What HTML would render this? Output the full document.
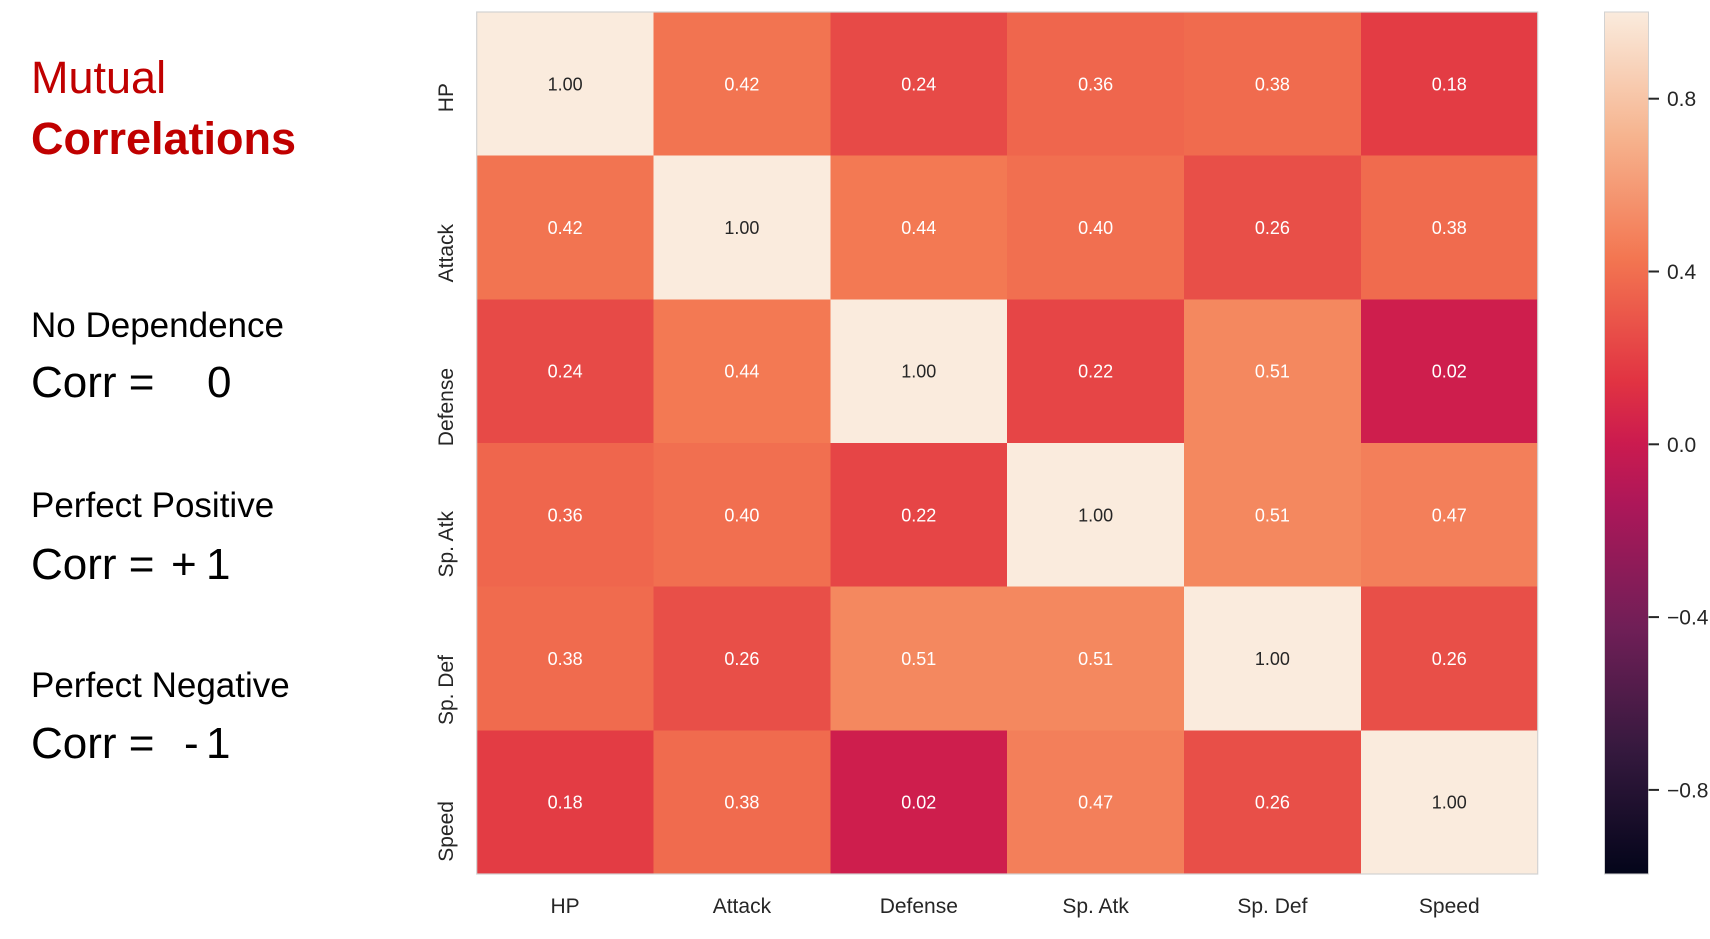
<!DOCTYPE html>
<html>
<head>
<meta charset="utf-8">
<style>
  html, body { margin: 0; padding: 0; background: #ffffff; }
  body { width: 1710px; height: 939px; overflow: hidden; }
  svg { display: block; }
  text { font-family: "Liberation Sans", Arial, sans-serif; }
</style>
</head>
<body>
<svg width="1710" height="939" viewBox="0 0 1710 939" xmlns="http://www.w3.org/2000/svg">
  <defs>
    <linearGradient id="rocket" x1="0" y1="1" x2="0" y2="0">
      <stop offset="0" stop-color="#03051a"/>
      <stop offset="0.143" stop-color="#35193e"/>
      <stop offset="0.286" stop-color="#701f57"/>
      <stop offset="0.429" stop-color="#ad1759"/>
      <stop offset="0.5" stop-color="#cb1b4f"/>
      <stop offset="0.571" stop-color="#e13342"/>
      <stop offset="0.714" stop-color="#f37651"/>
      <stop offset="0.857" stop-color="#f6b48f"/>
      <stop offset="1" stop-color="#faebdd"/>
    </linearGradient>
  </defs>

  <!-- Left panel text -->
  <text x="31" y="93" font-size="45" fill="#c00000">Mutual</text>
  <text x="31" y="154" font-size="45" font-weight="bold" fill="#c00000">Correlations</text>

  <text x="31" y="337" font-size="35" fill="#000">No Dependence</text>
  <text x="31" y="397" font-size="44" fill="#000">Corr =</text>
  <text x="207" y="397" font-size="44" fill="#000">0</text>

  <text x="31" y="517" font-size="35" fill="#000">Perfect Positive</text>
  <text x="31" y="579" font-size="44" fill="#000">Corr =</text>
  <text x="171" y="579" font-size="44" fill="#000">+</text>
  <text x="206" y="579" font-size="44" fill="#000">1</text>

  <text x="31" y="697" font-size="35" fill="#000">Perfect Negative</text>
  <text x="31" y="758" font-size="44" fill="#000">Corr =</text>
  <text x="184" y="758" font-size="44" fill="#000">-</text>
  <text x="206" y="758" font-size="44" fill="#000">1</text>

  <!-- Heatmap cells -->
  <g shape-rendering="crispEdges">
    <rect x="476.7" y="12" width="177.3" height="144.2" fill="#faebdd"/>
    <rect x="653.5" y="12" width="177.3" height="144.2" fill="#f27451"/>
    <rect x="830.4" y="12" width="177.3" height="144.2" fill="#e74a47"/>
    <rect x="1007.2" y="12" width="177.3" height="144.2" fill="#ef664d"/>
    <rect x="1184.0" y="12" width="177.3" height="144.2" fill="#f06b4e"/>
    <rect x="1360.9" y="12" width="176.8" height="144.2" fill="#e33c44"/>

    <rect x="476.7" y="155.7" width="177.3" height="144.2" fill="#f27451"/>
    <rect x="653.5" y="155.7" width="177.3" height="144.2" fill="#faebdd"/>
    <rect x="830.4" y="155.7" width="177.3" height="144.2" fill="#f37953"/>
    <rect x="1007.2" y="155.7" width="177.3" height="144.2" fill="#f16f50"/>
    <rect x="1184.0" y="155.7" width="177.3" height="144.2" fill="#e84f48"/>
    <rect x="1360.9" y="155.7" width="176.8" height="144.2" fill="#f06b4e"/>

    <rect x="476.7" y="299.3" width="177.3" height="144.2" fill="#e74a47"/>
    <rect x="653.5" y="299.3" width="177.3" height="144.2" fill="#f37953"/>
    <rect x="830.4" y="299.3" width="177.3" height="144.2" fill="#faebdd"/>
    <rect x="1007.2" y="299.3" width="177.3" height="144.2" fill="#e64546"/>
    <rect x="1184.0" y="299.3" width="177.3" height="144.2" fill="#f4885f"/>
    <rect x="1360.9" y="299.3" width="176.8" height="144.2" fill="#ce1e4d"/>

    <rect x="476.7" y="443" width="177.3" height="144.2" fill="#ef664d"/>
    <rect x="653.5" y="443" width="177.3" height="144.2" fill="#f16f50"/>
    <rect x="830.4" y="443" width="177.3" height="144.2" fill="#e64546"/>
    <rect x="1007.2" y="443" width="177.3" height="144.2" fill="#faebdd"/>
    <rect x="1184.0" y="443" width="177.3" height="144.2" fill="#f4885f"/>
    <rect x="1360.9" y="443" width="176.8" height="144.2" fill="#f37f5a"/>

    <rect x="476.7" y="586.7" width="177.3" height="144.2" fill="#f06b4e"/>
    <rect x="653.5" y="586.7" width="177.3" height="144.2" fill="#e84f48"/>
    <rect x="830.4" y="586.7" width="177.3" height="144.2" fill="#f4885f"/>
    <rect x="1007.2" y="586.7" width="177.3" height="144.2" fill="#f4885f"/>
    <rect x="1184.0" y="586.7" width="177.3" height="144.2" fill="#faebdd"/>
    <rect x="1360.9" y="586.7" width="176.8" height="144.2" fill="#e84f48"/>

    <rect x="476.7" y="730.3" width="177.3" height="143.7" fill="#e33c44"/>
    <rect x="653.5" y="730.3" width="177.3" height="143.7" fill="#f06b4e"/>
    <rect x="830.4" y="730.3" width="177.3" height="143.7" fill="#ce1e4d"/>
    <rect x="1007.2" y="730.3" width="177.3" height="143.7" fill="#f37f5a"/>
    <rect x="1184.0" y="730.3" width="177.3" height="143.7" fill="#e84f48"/>
    <rect x="1360.9" y="730.3" width="176.8" height="143.7" fill="#faebdd"/>
  </g>
  <rect x="476.7" y="12" width="1061" height="862" fill="none" stroke="#d2d2d2" stroke-width="1.2"/>

  <!-- Annotations -->
  <g font-size="18" text-anchor="middle">
    <text x="565.1" y="90.3" fill="#262626">1.00</text>
    <text x="741.9" y="90.3" fill="#ffffff">0.42</text>
    <text x="918.8" y="90.3" fill="#ffffff">0.24</text>
    <text x="1095.6" y="90.3" fill="#ffffff">0.36</text>
    <text x="1272.4" y="90.3" fill="#ffffff">0.38</text>
    <text x="1449.3" y="90.3" fill="#ffffff">0.18</text>

    <text x="565.1" y="234" fill="#ffffff">0.42</text>
    <text x="741.9" y="234" fill="#262626">1.00</text>
    <text x="918.8" y="234" fill="#ffffff">0.44</text>
    <text x="1095.6" y="234" fill="#ffffff">0.40</text>
    <text x="1272.4" y="234" fill="#ffffff">0.26</text>
    <text x="1449.3" y="234" fill="#ffffff">0.38</text>

    <text x="565.1" y="377.7" fill="#ffffff">0.24</text>
    <text x="741.9" y="377.7" fill="#ffffff">0.44</text>
    <text x="918.8" y="377.7" fill="#262626">1.00</text>
    <text x="1095.6" y="377.7" fill="#ffffff">0.22</text>
    <text x="1272.4" y="377.7" fill="#ffffff">0.51</text>
    <text x="1449.3" y="377.7" fill="#ffffff">0.02</text>

    <text x="565.1" y="521.3" fill="#ffffff">0.36</text>
    <text x="741.9" y="521.3" fill="#ffffff">0.40</text>
    <text x="918.8" y="521.3" fill="#ffffff">0.22</text>
    <text x="1095.6" y="521.3" fill="#262626">1.00</text>
    <text x="1272.4" y="521.3" fill="#ffffff">0.51</text>
    <text x="1449.3" y="521.3" fill="#ffffff">0.47</text>

    <text x="565.1" y="665" fill="#ffffff">0.38</text>
    <text x="741.9" y="665" fill="#ffffff">0.26</text>
    <text x="918.8" y="665" fill="#ffffff">0.51</text>
    <text x="1095.6" y="665" fill="#ffffff">0.51</text>
    <text x="1272.4" y="665" fill="#262626">1.00</text>
    <text x="1449.3" y="665" fill="#ffffff">0.26</text>

    <text x="565.1" y="808.7" fill="#ffffff">0.18</text>
    <text x="741.9" y="808.7" fill="#ffffff">0.38</text>
    <text x="918.8" y="808.7" fill="#ffffff">0.02</text>
    <text x="1095.6" y="808.7" fill="#ffffff">0.47</text>
    <text x="1272.4" y="808.7" fill="#ffffff">0.26</text>
    <text x="1449.3" y="808.7" fill="#262626">1.00</text>
  </g>

  <!-- Y tick labels -->
  <g font-size="21" fill="#262626" text-anchor="end">
    <text transform="translate(453,83) rotate(-90)">HP</text>
    <text transform="translate(453,224) rotate(-90)">Attack</text>
    <text transform="translate(453,368) rotate(-90)">Defense</text>
    <text transform="translate(453,511) rotate(-90)">Sp. Atk</text>
    <text transform="translate(453,655) rotate(-90)">Sp. Def</text>
    <text transform="translate(453,801) rotate(-90)">Speed</text>
  </g>

  <!-- X tick labels -->
  <g font-size="21" fill="#262626" text-anchor="middle">
    <text x="565.1" y="913">HP</text>
    <text x="741.9" y="913">Attack</text>
    <text x="918.8" y="913">Defense</text>
    <text x="1095.6" y="913">Sp. Atk</text>
    <text x="1272.4" y="913">Sp. Def</text>
    <text x="1449.3" y="913">Speed</text>
  </g>

  <!-- Colorbar -->
  <rect x="1604.5" y="12" width="44" height="862" fill="url(#rocket)"/>
  <rect x="1604.5" y="12" width="44" height="862" fill="none" stroke="#d2d2d2" stroke-width="1"/>
  <g stroke="#262626" stroke-width="2">
    <line x1="1648.5" y1="98.7" x2="1659" y2="98.7"/>
    <line x1="1648.5" y1="271.5" x2="1659" y2="271.5"/>
    <line x1="1648.5" y1="444.3" x2="1659" y2="444.3"/>
    <line x1="1648.5" y1="617.1" x2="1659" y2="617.1"/>
    <line x1="1648.5" y1="789.9" x2="1659" y2="789.9"/>
  </g>
  <g font-size="21" fill="#262626">
    <text x="1667" y="106.2">0.8</text>
    <text x="1667" y="279">0.4</text>
    <text x="1667" y="451.8">0.0</text>
    <text x="1667" y="624.6">−0.4</text>
    <text x="1667" y="797.4">−0.8</text>
  </g>
</svg>
</body>
</html>
